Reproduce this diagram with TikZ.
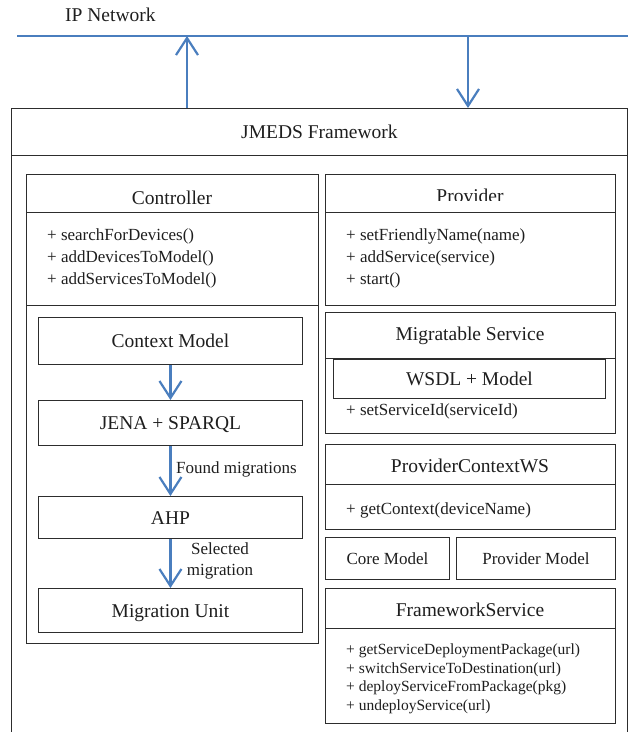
\documentclass[tikz,border=0pt]{standalone}
\usepackage{fontspec}
\setmainfont{Liberation Serif}
\usetikzlibrary{arrows.meta}
\definecolor{netblue}{RGB}{74,126,190}
\definecolor{linegray}{RGB}{45,45,45}
\definecolor{txt}{RGB}{30,30,30}
\begin{document}
\begin{tikzpicture}[x=1pt,y=-1pt,
  box/.style={draw=linegray, line width=0.9pt, inner sep=0pt, anchor=north west},
  big/.style={font=\fontsize{19.5}{22}\selectfont, text=txt},
  bigbox/.style={box, big, text height=13.3pt, text depth=0pt},
  medbox/.style={box, font=\fontsize{17}{20}\selectfont, text=txt, text height=11.6pt, text depth=0pt},
  ttl/.style={big, anchor=base, inner sep=0pt},
  meth/.style={font=\fontsize{17}{20}\selectfont, text=txt, anchor=base west, inner sep=0pt},
  smeth/.style={font=\fontsize{15.5}{18}\selectfont, text=txt, anchor=base west, inner sep=0pt},
  lbl/.style={font=\fontsize{17}{21.7}\selectfont, text=txt, inner sep=0pt},
  hline/.style={draw=linegray, line width=0.9pt},
  netline/.style={draw=netblue, line width=2.2pt},
  flow/.style={draw=netblue, line width=2.2pt, -{Straight Barb[length=17pt,width=22pt]}}]
\useasboundingbox (0,0) rectangle (628,732);
\coordinate (bottom) at (0,732);

% IP network
\node[big, anchor=base west, inner sep=0pt] (ipnet) at (65,21) {IP Network};
\coordinate (netL) at (17,36);
\coordinate (netR) at (628,36);
\draw[netline] (netL) -- (netR);

% JMEDS framework
\node[bigbox, minimum width=616pt, minimum height=47pt] (fw) at (11,108) {JMEDS Framework};
\draw[hline] (fw.north west) -- (fw.north west |- bottom);
\draw[hline] (fw.north east) -- (fw.north east |- bottom);

\coordinate (upT) at (187,36);
\coordinate (dnT) at (468,36);
\draw[flow] (fw.north -| upT) -- (upT);
\draw[flow] (dnT) -- (fw.north -| dnT);

% Controller
\node[box, minimum width=292pt, minimum height=469pt] (ctrl) at (26,174) {};
\draw[hline] ([yshift=-38pt]ctrl.north west) -- ([yshift=-38pt]ctrl.north east);
\draw[hline] ([yshift=-131pt]ctrl.north west) -- ([yshift=-131pt]ctrl.north east);
\node[ttl] (ctrlT) at (172,204) {Controller};
\node[meth] (ct1) at (47,240) {+ searchForDevices()};
\node[meth] (ct2) at (47,262) {+ addDevicesToModel()};
\node[meth] (ct3) at (47,284) {+ addServicesToModel()};

\node[bigbox, minimum width=264pt, minimum height=47pt] (cm) at (38,317) {Context Model};
\node[bigbox, minimum width=264pt, minimum height=45pt] (jena) at (38,400) {JENA + SPARQL};
\node[bigbox, minimum width=264pt, minimum height=42pt] (ahp) at (38,496) {AHP};
\node[bigbox, minimum width=264pt, minimum height=44pt] (mu) at (38,588) {Migration Unit};

\draw[flow] (cm) -- (jena);
\draw[flow] (jena) -- (ahp);
\draw[flow] (ahp) -- (mu);
\node[lbl, anchor=base west] (found) at (176,473) {Found migrations};
\node[lbl, align=center] (sel) at (220,561) {Selected\\migration};

% Provider
\node[box, minimum width=290pt, minimum height=131pt] (prov) at (325,174) {};
\draw[hline] ([yshift=-38pt]prov.north west) -- ([yshift=-38pt]prov.north east);
\begin{scope}
\clip (325,174) rectangle (615,200.5);
\node[ttl] (provT) at (470,202.5) {Provider};
\end{scope}
\node[meth] (pv1) at (346,240) {+ setFriendlyName(name)};
\node[meth] (pv2) at (346,262) {+ addService(service)};
\node[meth] (pv3) at (346,284) {+ start()};

% Migratable Service
\node[box, minimum width=290pt, minimum height=121pt] (ms) at (325,312) {};
\draw[hline] ([yshift=-46pt]ms.north west) -- ([yshift=-46pt]ms.north east);
\node[ttl] (msT) at (470,340) {Migratable Service};
\node[bigbox, minimum width=272pt, minimum height=39pt] (wsdl) at (333,359) {WSDL + Model};
\node[meth] (ms1) at (346,415) {+ setServiceId(serviceId)};

% ProviderContextWS
\node[box, minimum width=290pt, minimum height=85pt] (pcws) at (325,444) {};
\draw[hline] ([yshift=-40pt]pcws.north west) -- ([yshift=-40pt]pcws.north east);
\node[ttl] (pcwsT) at (470,472.5) {ProviderContextWS};
\node[meth] (pc1) at (346,514) {+ getContext(deviceName)};

% Core / Provider model
\node[medbox, minimum width=124pt, minimum height=42pt] (core) at (325,537) {Core Model};
\node[medbox, minimum width=159pt, minimum height=42pt] (pmod) at (456,537) {Provider Model};

% FrameworkService
\node[box, minimum width=290pt, minimum height=135pt] (fs) at (325,588) {};
\draw[hline] ([yshift=-40pt]fs.north west) -- ([yshift=-40pt]fs.north east);
\node[ttl] (fsT) at (470,616.5) {FrameworkService};
\node[smeth] (fs1) at (346,654) {+ getServiceDeploymentPackage(url)};
\node[smeth] (fs2) at (346,673) {+ switchServiceToDestination(url)};
\node[smeth] (fs3) at (346,691.5) {+ deployServiceFromPackage(pkg)};
\node[smeth] (fs4) at (346,710) {+ undeployService(url)};
\end{tikzpicture}
\end{document}
